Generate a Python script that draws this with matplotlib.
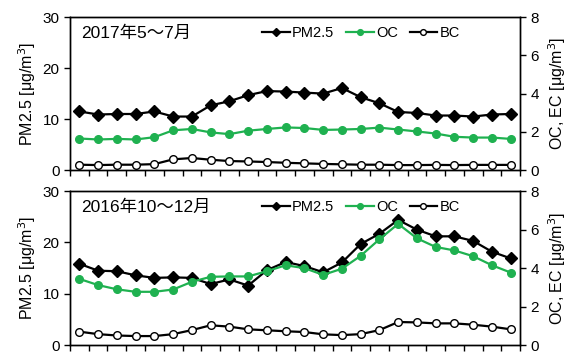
import numpy as np
import matplotlib.pyplot as plt
from matplotlib.ticker import FixedLocator, NullFormatter

plt.rcParams['font.family'] = ['Liberation Sans', 'Noto Sans CJK JP', 'DejaVu Sans']

hours = np.arange(1, 25)

# 2017年5～7月
pm25_summer = [11.5, 10.9, 11.0, 11.0, 11.5, 10.5, 10.5, 12.7, 13.5, 14.7, 15.5, 15.4,
               15.2, 15.0, 16.1, 14.3, 13.1, 11.4, 11.2, 10.7, 10.7, 10.5, 10.9, 11.0]
oc_summer = [1.65, 1.6, 1.63, 1.6, 1.72, 2.08, 2.15, 1.97, 1.88, 2.06, 2.15, 2.23,
             2.2, 2.1, 2.12, 2.15, 2.22, 2.12, 2.02, 1.91, 1.74, 1.7, 1.7, 1.63]
bc_summer = [0.28, 0.26, 0.28, 0.28, 0.31, 0.56, 0.63, 0.54, 0.47, 0.45, 0.42, 0.38,
             0.35, 0.32, 0.3, 0.28, 0.28, 0.26, 0.26, 0.27, 0.26, 0.27, 0.27, 0.27]

# 2016年10～12月
pm25_winter = [15.85, 14.5, 14.4, 13.6, 13.1, 13.2, 13.1, 11.9, 12.8, 11.6, 14.6, 16.2,
               15.4, 14.2, 16.1, 19.7, 21.7, 24.4, 22.5, 21.2, 21.2, 20.3, 18.2, 16.9]
oc_winter = [3.44, 3.12, 2.9, 2.77, 2.77, 2.89, 3.29, 3.55, 3.57, 3.57, 3.84, 4.15,
             4.0, 3.65, 3.97, 4.64, 5.5, 6.3, 5.55, 5.1, 4.92, 4.62, 4.15, 3.77]
bc_winter = [0.7, 0.57, 0.5, 0.47, 0.47, 0.57, 0.78, 1.03, 0.96, 0.82, 0.77, 0.72,
             0.68, 0.56, 0.52, 0.57, 0.78, 1.2, 1.18, 1.13, 1.13, 1.06, 0.96, 0.82]

titles = ['2017年5～7月', '2016年10～12月']
green = '#1fb150'

fig = plt.figure(figsize=(5.69, 3.58), dpi=100)
ax_top = fig.add_axes([0.123, 0.525, 0.791, 0.427])
ax_bot = fig.add_axes([0.123, 0.036, 0.791, 0.430])

panels = [(ax_top, pm25_summer, oc_summer, bc_summer, titles[0]),
          (ax_bot, pm25_winter, oc_winter, bc_winter, titles[1])]

for i, (ax, pm, oc, bc, title) in enumerate(panels):
    ax2 = ax.twinx()
    l1, = ax.plot(hours, pm, color='black', lw=1.6, marker='D', ms=6,
                  mfc='black', mec='black', label='PM2.5')
    l2, = ax2.plot(hours, oc, color=green, lw=1.6, marker='o', ms=5.5,
                   mfc=green, mec=green, label='OC')
    l3, = ax2.plot(hours, bc, color='black', lw=1.6, marker='o', ms=5.5,
                   mfc='white', mec='black', label='BC')

    ax.set_xlim(0.5, 24.5)
    ax.set_ylim(0, 30)
    ax2.set_ylim(0, 8)
    ax.set_yticks([0, 10, 20, 30])
    ax2.set_yticks([0, 2, 4, 6, 8])
    ax.xaxis.set_major_locator(FixedLocator(np.arange(0.5, 25, 1)))
    ax.xaxis.set_major_formatter(NullFormatter())
    ax.tick_params(axis='x', length=4, width=1, direction='out')
    ax.tick_params(axis='y', length=4, width=1, direction='out', labelsize=11)
    ax2.tick_params(axis='y', length=4, width=1, direction='out', labelsize=11)
    for a in (ax, ax2):
        for s in a.spines.values():
            s.set_linewidth(1)

    if i == 1:
        for h in range(1, 24, 2):
            ax.text(h, -0.11, str(h), transform=ax.get_xaxis_transform(),
                    ha='center', va='top', fontsize=11)

    ax.set_ylabel('PM2.5 [μg/m$^3$]', fontsize=11.5, labelpad=3)
    ax2.set_ylabel('OC, EC [μg/m$^3$]', fontsize=11.5, labelpad=5)
    ax.text(0.025, 0.895, title, transform=ax.transAxes, fontsize=12.5,
            ha='left', va='center')
    ax2.legend(handles=[l1, l2, l3], loc='upper right', bbox_to_anchor=(0.895, 1.03),
               ncol=3, frameon=False, fontsize=10.5, handlelength=1.9,
               handletextpad=0.15, columnspacing=0.8, markerscale=0.75)

fig.savefig('out.png', dpi=100)
